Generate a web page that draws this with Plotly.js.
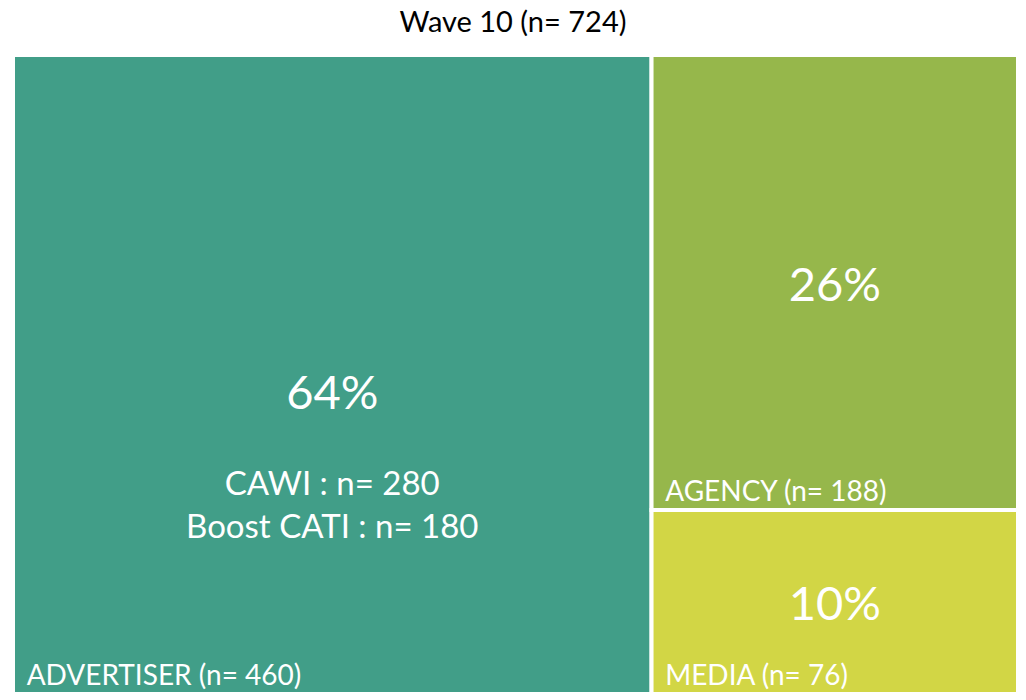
<!DOCTYPE html>
<html>
<head>
<meta charset="utf-8">
<script src="https://cdn.plot.ly/plotly-3.0.1.min.js"></script>
<style>
  html, body { margin: 0; padding: 0; background: #fff; }
  #chart { width: 1026px; height: 700px; }
</style>
</head>
<body>
<div id="chart"></div>
<script>
var groups = ['ADVERTISER', 'AGENCY', 'MEDIA'];
var counts = [460, 188, 76];
var colors = ['#419E88', '#96B74B', '#D2D645'];
var subLines = ['CAWI : n= 280<br>Boost CATI : n= 180', '', ''];
var waveTitle = 'Wave 10';

var total = counts.reduce(function (a, b) { return a + b; }, 0);

var parents = groups.map(function () { return ''; });
var pctText = counts.map(function (v, i) {
    var t = '<span style="font-size:47px">' + Math.round(v / total * 100) + '%</span>';
    if (subLines[i]) {
        // blank lines above push the percentage back to the tile centre
        t = '&nbsp;<br>&nbsp;<br>&nbsp;<br>&nbsp;<br>' + t + '<br>&nbsp;<br>' + subLines[i];
    }
    return t;
});
var nameText = groups.map(function (g, i) {
    return '&nbsp;&#8201;' + g + ' (n= ' + counts[i] + ')';
});

var fills = {
    type: 'treemap',
    labels: groups,
    parents: parents,
    values: counts,
    customdata: pctText,
    texttemplate: '%{customdata}',
    textposition: 'middle center',
    textfont: { family: 'Lato', size: 33, color: '#ffffff' },
    marker: { colors: colors, line: { color: '#ffffff', width: 4 }, pad: { t: 0, l: 0, r: 0, b: 0 } },
    tiling: { packing: 'squarify', pad: 0 },
    sort: true,
    hoverinfo: 'skip'
};

var names = {
    type: 'treemap',
    labels: groups,
    parents: parents,
    values: counts,
    customdata: nameText,
    texttemplate: '%{customdata}',
    textposition: 'bottom left',
    textfont: { family: 'Lato', size: 28, color: '#ffffff' },
    marker: { colors: ['rgba(0,0,0,0)', 'rgba(0,0,0,0)', 'rgba(0,0,0,0)'], line: { width: 0 }, pad: { t: 0, l: 0, r: 0, b: 0 } },
    tiling: { packing: 'squarify', pad: 0 },
    sort: true,
    hoverinfo: 'skip'
};

var layout = {
    title: {
        text: waveTitle + ' (n= ' + total + ')',
        font: { family: 'Lato', size: 29, color: '#000000' },
        x: 0.5, xanchor: 'center',
        y: 0.969, yref: 'container', yanchor: 'middle'
    },
    margin: { l: 13, r: 8, t: 55, b: 6 },
    paper_bgcolor: '#ffffff',
    showlegend: false
};

Plotly.newPlot('chart', [fills, names], layout, { displayModeBar: false });
</script>
</body>
</html>
